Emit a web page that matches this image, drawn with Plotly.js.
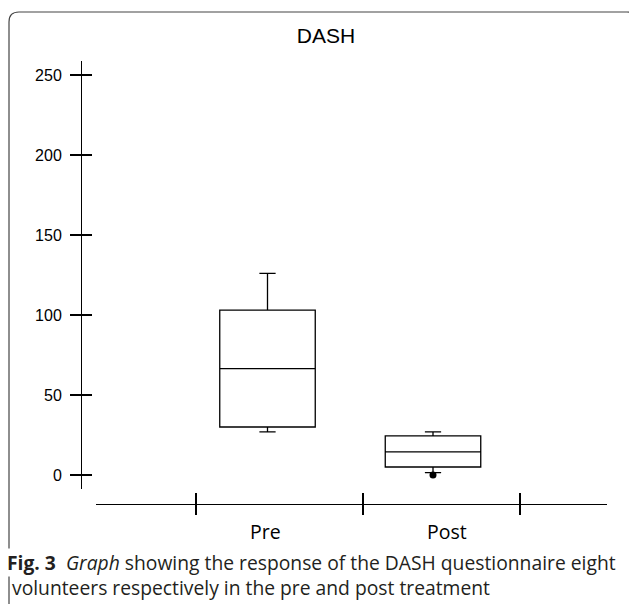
<!DOCTYPE html>
<html>
<head>
<meta charset="utf-8">
<script src="https://cdn.plot.ly/plotly-3.0.1.min.js"></script>
<style>
  html, body { margin: 0; padding: 0; background: #ffffff; }
  #chart { width: 629px; height: 604px; }
</style>
</head>
<body>
<div id="chart"></div>
<script>
// ---- data ----
var categories = ["Pre", "Post"];
var lowerFence = [27, 1.5];
var q1Values = [30, 5];
var medianValues = [66.5, 14.5];
var q3Values = [103, 24.5];
var upperFence = [126, 27];
var postOutliers = [0];
var yTickValues = [0, 50, 100, 150, 200, 250];
var titleText = "DASH";
var captionLine1 = "<b>Fig. 3</b>  <i>Graph</i> showing the response of the DASH questionnaire eight";
var captionLine2 = "volunteers respectively in the pre and post treatment";

// ---- layout geometry (pixels of the 629x604 page) ----
var W = 629, H = 604;
var M = { l: 81, r: 22, t: 61, b: 100 };
var paperW = W - M.l - M.r, paperH = H - M.t - M.b;
function pxX(px) { return (px - M.l) / paperW; }
function pxY(py) { return (H - M.b - py) / paperH; }

var xLineStart = 96, xLineEnd = 607;
var yLineTop = 61, yLineBottom = 489;
var catPx0 = 267.5, catStepPx = 165.5;           // pixel centre of first box, spacing
function dataX(px) { return (px - catPx0) / catStepPx; }
var xRange = [dataX(xLineStart), dataX(xLineEnd)];
var xBoundaryTicks = [196, 363, 520].map(dataX);
var labelOffsetPx = [-2.5, 14];

var yRange = [-8.75, 258.75];
var xIdx = categories.map(function (c, i) { return i; });

var traces = [
  {
    type: "box",
    x: xIdx,
    lowerfence: lowerFence,
    q1: q1Values,
    median: medianValues,
    q3: q3Values,
    upperfence: upperFence,
    width: 95.5 / catStepPx,
    whiskerwidth: 0.17,
    boxpoints: false,
    fillcolor: "rgba(255,255,255,0)",
    line: { color: "#000000", width: 1.3 },
    hoverinfo: "skip",
    showlegend: false
  },
  {
    type: "scatter",
    mode: "markers",
    x: postOutliers.map(function () { return categories.indexOf("Post"); }),
    y: postOutliers,
    marker: { color: "#000000", size: 7 },
    hoverinfo: "skip",
    showlegend: false
  },
  {
    type: "scatter",
    mode: "markers",
    x: [xIdx[0]],
    y: [yTickValues[0]],
    xaxis: "x2",
    yaxis: "y2",
    marker: { opacity: 0 },
    hoverinfo: "skip",
    showlegend: false
  }
];

var frameL = 9, frameT = 12, frameR = 637, frameB = 640, rad = 10;
var framePath =
  "M " + pxX(frameL) + "," + pxY(frameB) +
  " L " + pxX(frameL) + "," + pxY(frameT + rad) +
  " Q " + pxX(frameL) + "," + pxY(frameT) + " " + pxX(frameL + rad) + "," + pxY(frameT) +
  " L " + pxX(frameR - rad) + "," + pxY(frameT) +
  " Q " + pxX(frameR) + "," + pxY(frameT) + " " + pxX(frameR) + "," + pxY(frameT + rad) +
  " L " + pxX(frameR) + "," + pxY(frameB);

var numFont = { family: "Liberation Sans, Arial, sans-serif", size: 16, color: "#000000" };
var capFont = { family: "Open Sans, sans-serif", size: 19.3, color: "#231f20" };

var annotations = categories.map(function (c, i) {
  return {
    text: c, xref: "x", yref: "paper",
    x: i + labelOffsetPx[i] / catStepPx, y: pxY(531),
    xanchor: "center", yanchor: "middle", showarrow: false,
    font: { family: "Open Sans, sans-serif", size: 19.5, color: "#000000" }
  };
});
annotations.push({
  text: captionLine1, xref: "paper", yref: "paper",
  x: pxX(6), y: pxY(562), xanchor: "left", yanchor: "middle",
  showarrow: false, align: "left", font: capFont,
  bgcolor: "#ffffff", borderpad: 0
});
annotations.push({
  text: captionLine2, xref: "paper", yref: "paper",
  x: pxX(10), y: pxY(587), xanchor: "left", yanchor: "middle",
  showarrow: false, align: "left", font: capFont
});

var layout = {
  width: W, height: H,
  margin: M,
  paper_bgcolor: "#ffffff",
  plot_bgcolor: "#ffffff",
  showlegend: false,
  title: {
    text: titleText,
    x: 326 / W, xref: "container", xanchor: "center",
    y: 1 - 36 / H, yref: "container", yanchor: "middle",
    font: { family: "Liberation Sans, Arial, sans-serif", size: 21, color: "#000000" }
  },
  xaxis: {
    type: "linear",
    domain: [pxX(xLineStart), 1],
    range: xRange,
    anchor: "free", position: 0,
    showline: true, linecolor: "#000000", linewidth: 1.3,
    ticks: "outside", ticklen: 10, tickwidth: 1.3, tickcolor: "#000000",
    tickmode: "array", tickvals: xBoundaryTicks,
    showticklabels: false, showgrid: false, zeroline: false, fixedrange: true
  },
  xaxis2: {
    type: "linear",
    overlaying: "x",
    range: xRange,
    anchor: "free", position: 0,
    showline: false,
    ticks: "inside", ticklen: 11, tickwidth: 1.3, tickcolor: "#000000",
    tickmode: "array", tickvals: xBoundaryTicks,
    showticklabels: false, showgrid: false, zeroline: false, fixedrange: true
  },
  yaxis: {
    domain: [pxY(yLineBottom), 1],
    range: yRange,
    anchor: "free", position: 0,
    showline: true, linecolor: "#000000", linewidth: 1.3,
    ticks: "outside", ticklen: 11, tickwidth: 1.3, tickcolor: "#000000",
    tickmode: "array", tickvals: yTickValues,
    ticklabelstandoff: 5,
    tickfont: numFont,
    showgrid: false, zeroline: false, fixedrange: true
  },
  yaxis2: {
    overlaying: "y",
    range: yRange,
    anchor: "free", position: 0,
    showline: false,
    ticks: "inside", ticklen: 10, tickwidth: 1.3, tickcolor: "#000000",
    tickmode: "array", tickvals: yTickValues,
    showticklabels: false, showgrid: false, zeroline: false, fixedrange: true
  },
  shapes: [{
    type: "path", xref: "paper", yref: "paper",
    path: framePath,
    line: { color: "#444444", width: 1.2 },
    fillcolor: "rgba(0,0,0,0)"
  }],
  annotations: annotations
};

Plotly.newPlot("chart", traces, layout, { displayModeBar: false, staticPlot: true });
</script>
</body>
</html>
